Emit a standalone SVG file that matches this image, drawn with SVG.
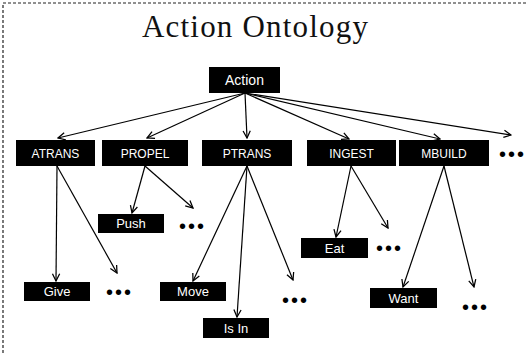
<svg xmlns="http://www.w3.org/2000/svg" width="527" height="353" viewBox="0 0 527 353">
  <style>
    .frame { fill: none; stroke: #222; stroke-width: 1.2; stroke-dasharray: 3 2; }
    .title { font-family: "Liberation Serif", "Times New Roman", serif; font-size: 31px; fill: #111; }
    .box { fill: #000; }
    .lbl { font-family: "Liberation Sans", Arial, sans-serif; fill: #fff; text-anchor: middle; }
    .l1 { font-size: 14px; }
    .l2 { font-size: 12px; }
    .l3 { font-size: 13px; }
    .dots { font-family: "Liberation Sans", Arial, sans-serif; font-size: 20px; fill: #000; letter-spacing: 2px; }
    .edge { stroke: #000; stroke-width: 1.2; fill: none; marker-end: url(#arrow); }
  </style>
  <defs>
    <marker id="arrow" viewBox="0 0 10 10" refX="9" refY="5" markerWidth="9" markerHeight="9" markerUnits="userSpaceOnUse" orient="auto">
      <path d="M1,1 L9,5 L1,9" fill="none" stroke="#000" stroke-width="1.4"/>
    </marker>
  </defs>

  <rect width="527" height="353" fill="#fff"/>

  <!-- dashed frame: top and left edges -->
  <path class="frame" d="M3,353 L3,3 L527,3"/>

  <text class="title" x="142" y="37" textLength="226" lengthAdjust="spacing">Action Ontology</text>

  <!-- connectors -->
  <g id="connectors">
    <line class="edge" x1="245" y1="93" x2="58" y2="138"/>
    <line class="edge" x1="245" y1="93" x2="147" y2="138"/>
    <line class="edge" x1="245" y1="93" x2="247" y2="138"/>
    <line class="edge" x1="245" y1="93" x2="349" y2="139"/>
    <line class="edge" x1="245" y1="93" x2="440" y2="139"/>
    <line class="edge" x1="245" y1="93" x2="511" y2="135"/>

    <line class="edge" x1="57" y1="166" x2="56" y2="281"/>
    <line class="edge" x1="57" y1="166" x2="117" y2="273"/>

    <line class="edge" x1="145" y1="166" x2="132" y2="213"/>
    <line class="edge" x1="145" y1="166" x2="193" y2="208"/>

    <line class="edge" x1="247" y1="166" x2="193" y2="281"/>
    <line class="edge" x1="247" y1="166" x2="237" y2="317"/>
    <line class="edge" x1="247" y1="166" x2="293" y2="280"/>

    <line class="edge" x1="351" y1="166" x2="336" y2="237"/>
    <line class="edge" x1="351" y1="166" x2="388" y2="228"/>

    <line class="edge" x1="444" y1="166" x2="403" y2="287"/>
    <line class="edge" x1="444" y1="166" x2="474" y2="287"/>
  </g>

  <!-- root -->
  <g id="action">
    <rect class="box" x="209" y="67" width="71" height="26"/>
    <text class="lbl l1" x="244.5" y="85">Action</text>
  </g>

  <!-- primitive acts -->
  <g id="atrans">
    <rect class="box" x="16" y="140" width="79" height="26"/>
    <text class="lbl l2" x="55.5" y="157.5">ATRANS</text>
  </g>
  <g id="propel">
    <rect class="box" x="102" y="140" width="86" height="26"/>
    <text class="lbl l2" x="145" y="157.5">PROPEL</text>
  </g>
  <g id="ptrans">
    <rect class="box" x="202" y="140" width="90" height="26"/>
    <text class="lbl l2" x="247" y="157.5">PTRANS</text>
  </g>
  <g id="ingest">
    <rect class="box" x="307" y="140" width="89" height="26"/>
    <text class="lbl l2" x="351.5" y="157.5">INGEST</text>
  </g>
  <g id="mbuild">
    <rect class="box" x="399" y="140" width="90" height="26"/>
    <text class="lbl l2" x="444" y="157.5">MBUILD</text>
  </g>
  <text class="dots" x="499" y="161">•••</text>

  <!-- specific actions -->
  <g id="push">
    <rect class="box" x="98" y="214" width="66" height="19"/>
    <text class="lbl l3" x="131" y="228">Push</text>
  </g>
  <text class="dots" x="179" y="233">•••</text>

  <g id="give">
    <rect class="box" x="24" y="282" width="66" height="19"/>
    <text class="lbl l3" x="57" y="296">Give</text>
  </g>
  <text class="dots" x="106" y="299">•••</text>

  <g id="move">
    <rect class="box" x="160" y="282" width="66" height="19"/>
    <text class="lbl l3" x="193" y="296">Move</text>
  </g>
  <g id="isin">
    <rect class="box" x="203" y="318" width="66" height="20"/>
    <text class="lbl l3" x="236" y="332.5">Is In</text>
  </g>
  <text class="dots" x="282" y="307">•••</text>

  <g id="eat">
    <rect class="box" x="301" y="238" width="67" height="20"/>
    <text class="lbl l3" x="334.5" y="252.5">Eat</text>
  </g>
  <text class="dots" x="376" y="255">•••</text>

  <g id="want">
    <rect class="box" x="370" y="288" width="67" height="20"/>
    <text class="lbl l3" x="403.5" y="302.5">Want</text>
  </g>
  <text class="dots" x="462" y="314">•••</text>
</svg>
